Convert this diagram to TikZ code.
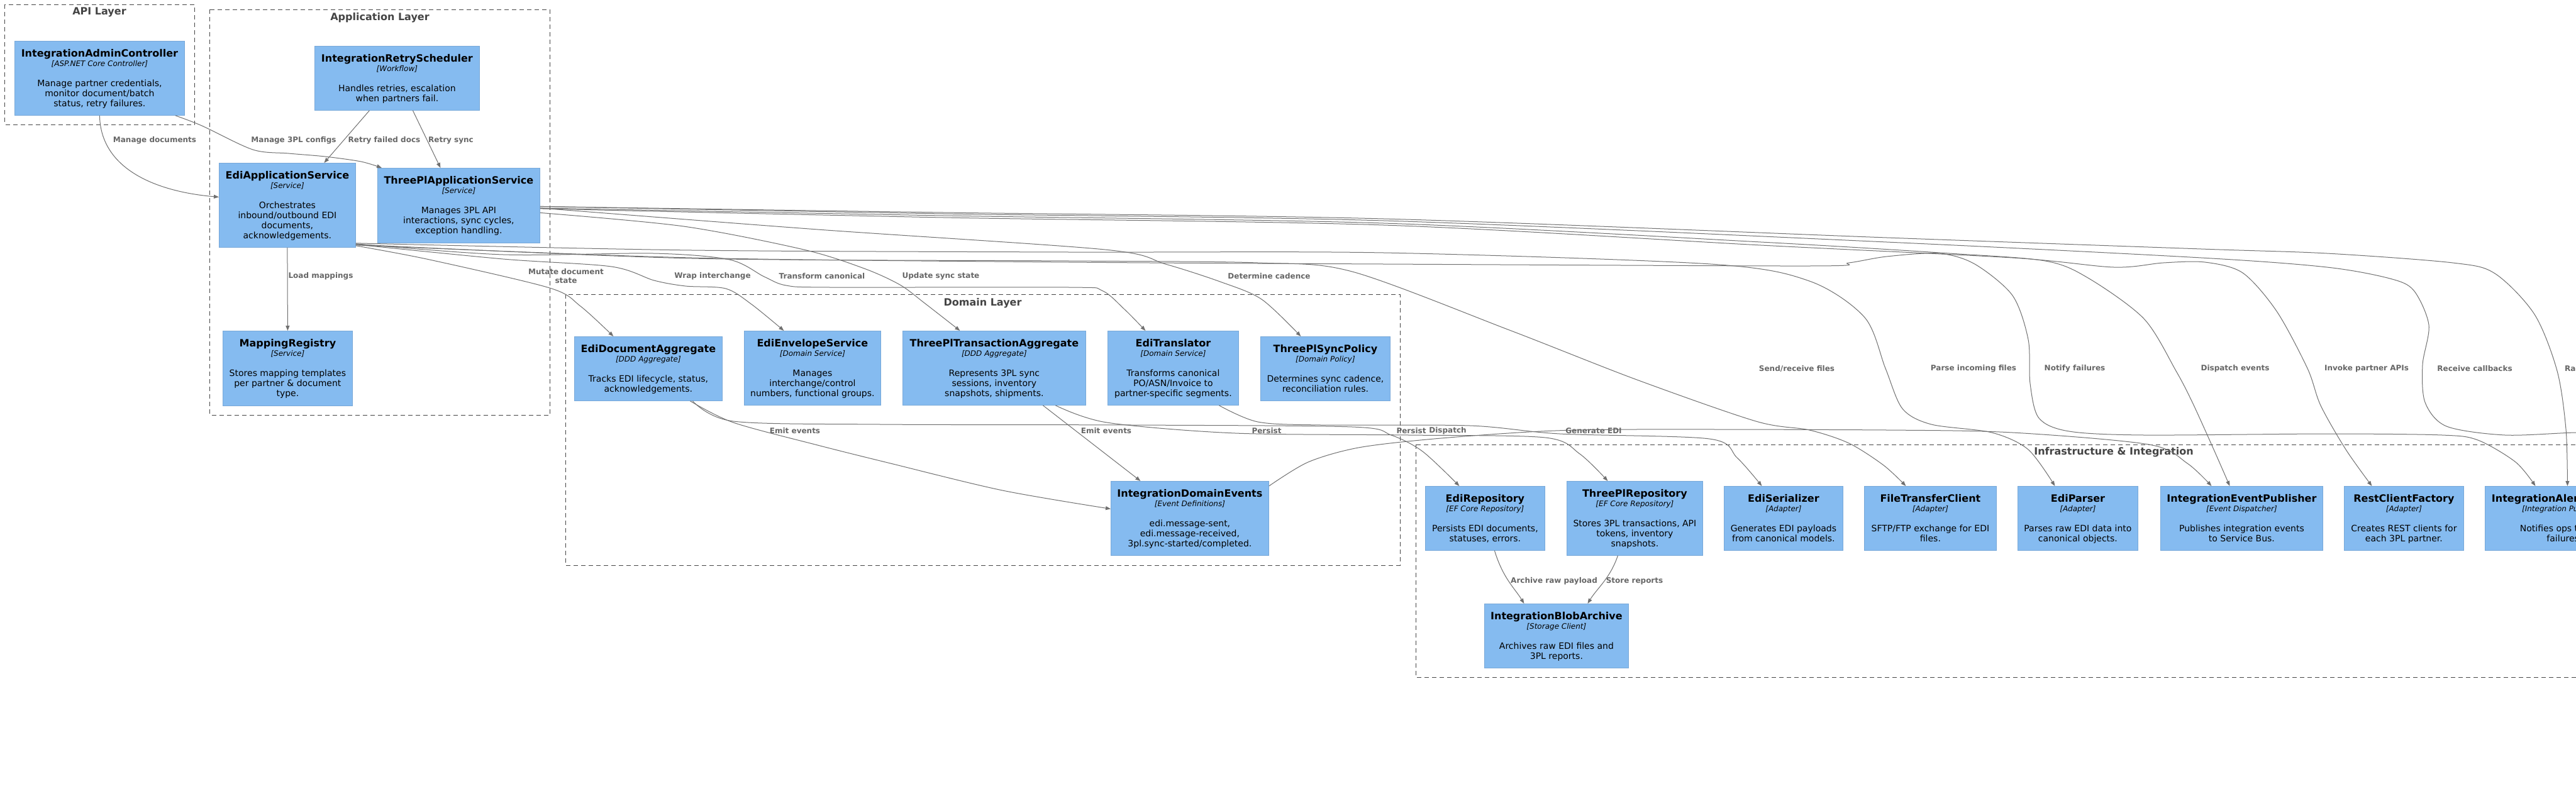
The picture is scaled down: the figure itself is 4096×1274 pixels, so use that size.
\documentclass[tikz,border=0pt]{standalone}
\usepackage{fontspec}
\setmainfont{DejaVu Sans}[ItalicFont={DejaVu Sans Oblique},BoldFont={DejaVu Sans Bold},BoldItalicFont={DejaVu Sans Bold Oblique}]
\usetikzlibrary{arrows.meta}
\definecolor{compfill}{HTML}{85BBF0}
\definecolor{compline}{HTML}{78A8D8}
\definecolor{edgegray}{HTML}{707070}
\definecolor{lblgray}{HTML}{666666}
\definecolor{laygray}{HTML}{444444}
% #1 name, #2 left, #3 top, #4 width, #5 height, #6 title, #7 technology, #8 description
\newcommand\comp[8]{%
  \pgfmathsetmacro\compdepth{#5-25.3}%
  \node[comp, anchor=north west, text height=25.3pt, text depth=\compdepth pt] (#1) at (#2,#3)
  {\parbox[t]{#4pt}{\centering\lineskiplimit=-100pt
    {\fontsize{16}{16}\selectfont\bfseries #6\par}
    {\fontsize{12}{14.8}\selectfont\itshape #7\par}
    \vspace{16.1pt}
    {\fontsize{14}{16}\selectfont #8\par}}};%
}
\begin{document}
\begin{tikzpicture}[x=1pt,y=-1pt,
  comp/.style={draw=compline, fill=compfill, line width=0.8pt, inner sep=0pt, text=black},
  edge/.style={draw=edgegray, line width=1pt, -{Triangle[length=8pt,width=6pt]}},
  plainedge/.style={draw=edgegray, line width=1pt},
  elabel/.style={font=\fontsize{12}{14}\selectfont\bfseries, text=lblgray, inner sep=0pt, align=center},
  layer/.style={draw=laygray, line width=1pt, dash pattern=on 7pt off 5pt},
  laytitle/.style={font=\fontsize{16}{18}\selectfont\bfseries, text=laygray, inner sep=0pt}]
\useasboundingbox (0,0) rectangle (4096,1274);
\clip (0,0) rectangle (4096,1274);
\fill[white] (0,0) rectangle (4096,1274);

% ---------- layers ----------
\draw[layer] (7.5,7) rectangle (309,198);
\node[laytitle] (tApi) at (158,19) {API Layer};
\draw[layer] (333.5,15) rectangle (874,660);
\node[laytitle] (tApp) at (604,28) {Application Layer};
\draw[layer] (899,468) rectangle (2226,899);
\node[laytitle] (tDom) at (1562.5,482) {Domain Layer};
\draw[layer] (2251,707) rectangle (4471,1077);
\node[laytitle] (tInf) at (3361,719) {Infrastructure \& Integration};

% ---------- components ----------
\comp{admin}{23}{65}{270}{118}{IntegrationAdminController}{[ASP.NET Core Controller]}{Manage partner credentials,\\monitor document/batch\\status, retry failures.}
\comp{retry}{500}{73}{262}{102}{IntegrationRetryScheduler}{[Workflow]}{Handles retries, escalation\\when partners fail.}
\comp{ediapp}{348}{259}{217}{134}{EdiApplicationService}{[Service]}{Orchestrates\\inbound/outbound EDI\\documents,\\acknowledgements.}
\comp{tplapp}{600}{267}{258}{119}{ThreePlApplicationService}{[Service]}{Manages 3PL API\\interactions, sync cycles,\\exception handling.}
\comp{mapreg}{354}{526}{206}{119}{MappingRegistry}{[Service]}{Stores mapping templates\\per partner \& document\\type.}
\comp{edidoc}{913}{535}{235}{102}{EdiDocumentAggregate}{[DDD Aggregate]}{Tracks EDI lifecycle, status,\\acknowledgements.}
\comp{edienv}{1183}{526}{217}{118}{EdiEnvelopeService}{[Domain Service]}{Manages\\interchange/control\\numbers, functional groups.}
\comp{tpltxn}{1435}{526}{291}{118}{ThreePlTransactionAggregate}{[DDD Aggregate]}{Represents 3PL sync\\sessions, inventory\\snapshots, shipments.}
\comp{editrans}{1761}{526}{208}{118}{EdiTranslator}{[Domain Service]}{Transforms canonical\\PO/ASN/Invoice to\\partner-specific segments.}
\comp{tplpol}{2004}{535}{206}{102}{ThreePlSyncPolicy}{[Domain Policy]}{Determines sync cadence,\\reconciliation rules.}
\comp{ide}{1766}{765}{251}{118}{IntegrationDomainEvents}{[Event Definitions]}{edi.message-sent,\\edi.message-received,\\3pl.sync-started/completed.}
\comp{edirepo}{2266}{773}{190}{102}{EdiRepository}{[EF Core Repository]}{Persists EDI documents,\\statuses, errors.}
\comp{tplrepo}{2491}{765}{216}{118}{ThreePlRepository}{[EF Core Repository]}{Stores 3PL transactions, API\\tokens, inventory\\snapshots.}
\comp{ediser}{2741}{773}{189}{102}{EdiSerializer}{[Adapter]}{Generates EDI payloads\\from canonical models.}
\comp{ftc}{2964}{773}{210}{102}{FileTransferClient}{[Adapter]}{SFTP/FTP exchange for EDI\\files.}
\comp{ediparse}{3208}{773}{191}{102}{EdiParser}{[Adapter]}{Parses raw EDI data into\\canonical objects.}
\comp{iep}{3435}{773}{258}{102}{IntegrationEventPublisher}{[Event Dispatcher]}{Publishes integration events\\to Service Bus.}
\comp{rest}{3727}{773}{190}{102}{RestClientFactory}{[Adapter]}{Creates REST clients for\\each 3PL partner.}
\comp{iap}{3951}{773}{252}{102}{IntegrationAlertPublisher}{[Integration Publisher]}{Notifies ops team of\\failures.}
\comp{blob}{2360}{960}{229}{102}{IntegrationBlobArchive}{[Storage Client]}{Archives raw EDI files and\\3PL reports.}
\coordinate (recvEnd) at (4200,688);

% ---------- connectors ----------
% API / application
\draw[edge] (admin.south) .. controls (160,270) and (250,305) .. ([yshift=13pt]ediapp.west);
\draw[edge] plot[smooth,tension=0.5] coordinates {([xshift=-15pt]admin.south east) (321,200) (402,238) (459,244) (517,249) (574,257) ([xshift=7pt]tplapp.north west)};
\draw[edge] ([xshift=-44pt]retry.south) -- ([xshift=58.5pt]ediapp.north);
\draw[edge] ([xshift=25pt]retry.south) -- ([xshift=-29pt]tplapp.north);
\draw[edge] (ediapp.south) -- (mapreg.north);

% application -> domain
\draw[edge] plot[smooth,tension=0.5] coordinates {([yshift=3pt]ediapp.south east) (683,413) (874,458) (923,487) ([xshift=-55.5pt]edidoc.north)};
\draw[edge] plot[smooth,tension=0.5] coordinates {([yshift=5pt]ediapp.south east) (800,412) (972,424) (1040,446) (1090,455) (1154,459) (1195,484) ([xshift=-45.5pt]edienv.north)};
\draw[edge] plot[smooth,tension=0.5] coordinates {([yshift=6pt]ediapp.south east) (800,405) (1039,403) (1160,413) (1215,440) (1250,454) (1320,457) (1700,457) (1752,462) (1788,492) ([xshift=-44pt]editrans.north)};
\draw[edge] plot[smooth,tension=0.5] coordinates {([yshift=-11.5pt]tplapp.east) (1087,360) (1278,397) (1374,427) (1431,453) (1470,482) ([xshift=-54.5pt]tpltxn.north)};
\draw[edge] plot[smooth,tension=0.5] coordinates {([yshift=-4pt]tplapp.east) (1300,365) (1757,397) (1853,420) (1940,448) (2006,476) ([xshift=-39pt]tplpol.north)};

% domain internal
\draw[edge] plot[smooth,tension=0.5] coordinates {([xshift=66.5pt]edidoc.south) (1166,672) (1300,708) (1416,737) (1594,780) ([yshift=15pt]ide.west)};
\draw[edge] ([xshift=77.5pt]tpltxn.south) -- ([xshift=-78.5pt]ide.north);

% application -> infrastructure (EdiApplicationService)
\draw[edge] plot[smooth,tension=0.5] coordinates {([yshift=7pt]ediapp.south east) (1100,398) (1700,401) (2200,402) (2720,420) (2877,447) (2965,505) (2998,586) (3025,650) (3071,675) (3167,688) (3225,715) ([xshift=-36.5pt]ediparse.north)};
\draw[edge] plot[smooth,tension=0.5] coordinates {([yshift=4pt]ediapp.south east) (1100,410) (1700,417) (2200,420) (2877,423) (2940,418) (3000,408) (3083,403) (3140,420) (3200,470) (3225,540) (3228,610) (3242,665) (3290,686) (3409,692) (3700,690) (3883,692) (3940,700) (4000,735) ([xshift=-46pt]iap.north)};
\draw[edge] plot[smooth,tension=0.5] coordinates {([yshift=5pt]ediapp.south east) (1100,411) (1700,415) (2000,418) (2150,432) (2400,525) (2600,603) (2792,670) (2877,684) (2940,705) (2995,740) ([xshift=-39pt]ftc.north)};

% application -> infrastructure (ThreePlApplicationService)
\draw[edge] plot[smooth,tension=0.5] coordinates {([yshift=-1.5pt]tplapp.east) (1500,338) (2200,348) (3000,378) (3500,396) (3700,403) (3900,418) (3967,435) (4030,500) (4066,590) (4080,683) ([xshift=5pt]iap.north)};
\draw[plainedge] plot[smooth,tension=0.5] coordinates {([yshift=-1.5pt]tplapp.east) (1500,340) (2200,351) (3000,385) (3500,410) (3700,425) (3800,443) (3838,462) (3862,517) (3852,580) (3856,640) (3890,678) (3983,692) (4096,688) (recvEnd)};
\draw[edge] plot[smooth,tension=0.5] coordinates {([yshift=-4pt]tplapp.east) (1500,343) (2200,355) (2800,385) (3100,403) (3252,415) (3320,442) (3409,507) (3460,590) (3486,640) (3520,715) ([xshift=-19pt]iep.north)};
\draw[edge] plot[smooth,tension=0.5] coordinates {([yshift=-5pt]tplapp.east) (1500,346) (2200,358) (2800,390) (3200,410) (3361,425) (3440,418) (3506,417) (3566,434) (3620,495) (3669,586) (3690,645) (3730,715) ([xshift=-51pt]rest.north)};

% domain -> infrastructure
\draw[edge] plot[smooth,tension=0.5] coordinates {([xshift=70.5pt]edidoc.south) (1166,670) (1400,675) (1800,676) (2150,679) (2212,692) (2262,718) ([xshift=-41pt]edirepo.north)};
\draw[edge] plot[smooth,tension=0.5] coordinates {([xshift=97.5pt]tpltxn.south) (1760,672) (1964,689) (2240,692) (2457,696) (2512,722) ([xshift=-43pt]tplrepo.north)};
\draw[edge] plot[smooth,tension=0.5] coordinates {([xshift=73pt]editrans.south) (2000,671) (2100,676) (2337,677) (2480,690) (2718,698) (2762,728) ([xshift=-34.5pt]ediser.north)};
\draw[edge] plot[smooth,tension=0.5] coordinates {([yshift=-8pt]ide.north east) (2080,735) (2160,712) (2280,698) (2450,686) (2600,683) (3000,684) (3200,688) (3417,707) (3478,737) ([xshift=-48pt]iep.north)};

% infrastructure internal
\draw[edge] ([xshift=15pt]edirepo.south) .. controls (2390,920) and (2408,935) .. ([xshift=-51.5pt]blob.north);
\draw[edge] ([xshift=-27pt]tplrepo.south) .. controls (2560,920) and (2540,935) .. ([xshift=49.5pt]blob.north);

% ---------- connector labels ----------
\node[elabel] (l1) at (246,223) {Manage documents};
\node[elabel] (l2) at (467,223) {Manage 3PL configs};
\node[elabel] (l3) at (611,223) {Retry failed docs};
\node[elabel] (l4) at (717,223) {Retry sync};
\node[elabel] (l5) at (510,439) {Load mappings};
\node[elabel] (l6) at (900,439) {Mutate document\\state};
\node[elabel] (l7) at (1133,439) {Wrap interchange};
\node[elabel] (l8) at (1307,439) {Transform canonical};
\node[elabel] (l9) at (1496,439) {Update sync state};
\node[elabel] (l10) at (2018,439) {Determine cadence};
\node[elabel] (l11) at (1264,685) {Emit events};
\node[elabel] (l12) at (1759,685) {Emit events};
\node[elabel] (l13) at (2014,685) {Persist};
\node[elabel] (l14) at (2244,685) {Persist};
\node[elabel] (l15) at (2302,685) {Dispatch};
\node[elabel] (l16) at (2534,685) {Generate EDI};
\node[elabel] (l17) at (2857,586) {Send/receive files};
\node[elabel] (l18) at (3138,586) {Parse incoming files};
\node[elabel] (l19) at (3299,586) {Notify failures};
\node[elabel] (l20) at (3554,586) {Dispatch events};
\node[elabel] (l21) at (3763,586) {Invoke partner APIs};
\node[elabel] (l22) at (3935,586) {Receive callbacks};
\node[elabel, anchor=west] (l23) at (4078,586) {Raise alerts};
\node[elabel] (l24) at (2471,924) {Archive raw payload};
\node[elabel] (l25) at (2599,924) {Store reports};
\end{tikzpicture}
\end{document}
